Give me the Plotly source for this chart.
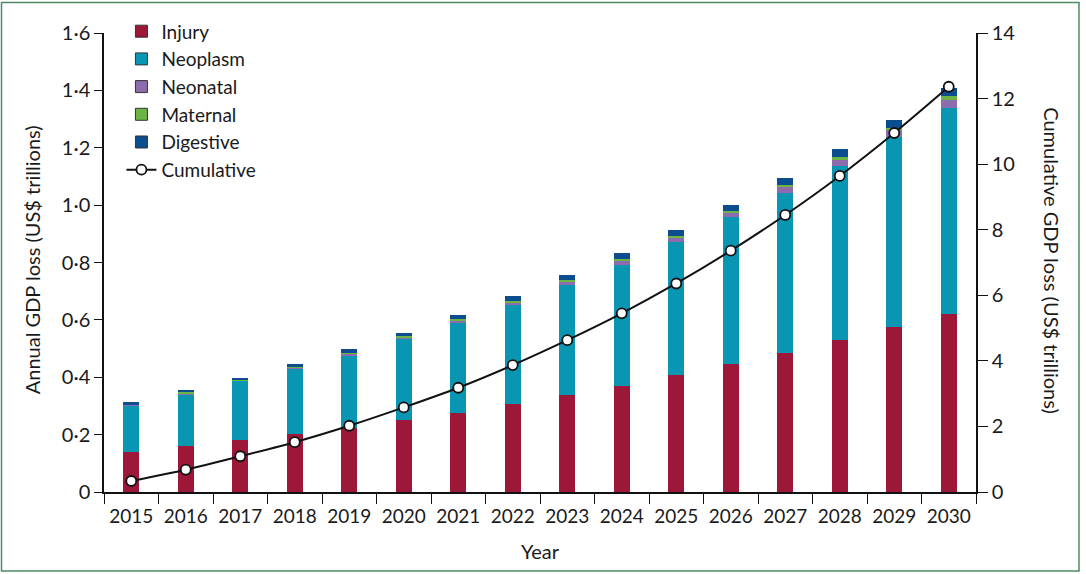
import plotly.graph_objects as go

years = [str(y) for y in range(2015, 2031)]
injury    = [0.139, 0.160, 0.180, 0.201, 0.224, 0.250, 0.276, 0.308, 0.339, 0.370, 0.409, 0.445, 0.485, 0.529, 0.574, 0.621]
neoplasm  = [0.163, 0.181, 0.207, 0.230, 0.253, 0.282, 0.314, 0.345, 0.382, 0.423, 0.463, 0.512, 0.557, 0.607, 0.662, 0.718]
neonatal  = [0.002, 0.004, 0.002, 0.003, 0.006, 0.008, 0.009, 0.009, 0.012, 0.013, 0.015, 0.016, 0.021, 0.023, 0.025, 0.029]
maternal  = [0.001, 0.002, 0.001, 0.002, 0.003, 0.004, 0.005, 0.005, 0.006, 0.006, 0.006, 0.008, 0.007, 0.009, 0.009, 0.012]
digestive = [0.008, 0.008, 0.008, 0.011, 0.012, 0.012, 0.014, 0.017, 0.016, 0.020, 0.020, 0.019, 0.024, 0.026, 0.028, 0.029]
cumulative = [0.335, 0.68, 1.09, 1.52, 2.02, 2.58, 3.18, 3.87, 4.63, 5.45, 6.36, 7.36, 8.45, 9.64, 10.95, 12.36]

left_ticks = [0, 0.2, 0.4, 0.6, 0.8, 1.0, 1.2, 1.4, 1.6]
left_labels = ["0", "0·2", "0·4", "0·6", "0·8", "1·0", "1·2", "1·4", "1·6"]
right_ticks = [0, 2, 4, 6, 8, 10, 12, 14]

series = [
    ("Injury", injury, "#9c1738"),
    ("Neoplasm", neoplasm, "#0896b3"),
    ("Neonatal", neonatal, "#8c6cad"),
    ("Maternal", maternal, "#6bb544"),
    ("Digestive", digestive, "#0b4d8e"),
]

FONT = "Lato, sans-serif"
fig = go.Figure()
for name, vals, col in series:
    fig.add_trace(go.Bar(x=years, y=vals, name=name, marker=dict(color=col, line=dict(width=0)),
                         showlegend=False, yaxis="y"))
# legend entries (outlined boxes)
for name, vals, col in series:
    fig.add_trace(go.Bar(x=[years[0]], y=[None], name=name,
                         marker=dict(color=col, line=dict(color="#333333", width=1)),
                         showlegend=True, yaxis="y"))

fig.add_trace(go.Scatter(x=years, y=cumulative, name="Cumulative", yaxis="y2",
                         mode="lines+markers", line=dict(color="#111111", width=2, shape="spline", smoothing=0.6),
                         marker=dict(symbol="circle", size=10, color="white", line=dict(color="#111111", width=1.8))))

fig.update_layout(
    width=1086, height=574,
    margin=dict(l=104, r=110, t=33, b=82, autoexpand=False),
    paper_bgcolor="white", plot_bgcolor="white",
    barmode="stack", bargap=0.7,
    font=dict(family=FONT, size=20, color="#1a1a1a"),
    showlegend=True,
    legend=dict(x=0.020, y=1.045, xanchor="left", yanchor="top", bgcolor="rgba(0,0,0,0)",
                font=dict(size=19), traceorder="normal", itemwidth=30, tracegroupgap=0),
    xaxis=dict(type="category", range=[-0.5, len(years) - 0.5], showline=True, linecolor="#111111",
               linewidth=1.5, ticks="outside", ticklen=10, tickcolor="#111111", tickwidth=1.2,
               tickson="boundaries", showgrid=False, tickfont=dict(size=19), tickangle=0,
               ticklabelstandoff=6, automargin=False),
    yaxis=dict(range=[0, 1.6], tickvals=left_ticks, ticktext=left_labels, showline=True,
               linecolor="#111111", linewidth=1.5, ticks="outside", ticklen=8, tickcolor="#111111",
               tickwidth=1.2, showgrid=False, zeroline=False, tickfont=dict(size=20), automargin=False),
    yaxis2=dict(range=[0, 14], tickvals=right_ticks, overlaying="y", side="right", showline=True,
                linecolor="#111111", linewidth=1.5, ticks="outside", ticklen=10, tickcolor="#111111",
                tickwidth=1.2, showgrid=False, zeroline=False, tickfont=dict(size=20), automargin=False),
)

fig.add_annotation(text="Annual GDP loss (US$ trillions)", xref="paper", yref="paper",
                   x=(32 - 104) / 872, y=0.505, textangle=-90, showarrow=False,
                   font=dict(size=20), xanchor="center", yanchor="middle")
fig.add_annotation(text="Cumulative GDP loss (US$ trillions)", xref="paper", yref="paper",
                   x=(1052 - 104) / 872, y=0.505, textangle=90, showarrow=False,
                   font=dict(size=20), xanchor="center", yanchor="middle")
fig.add_annotation(text="Year", xref="paper", yref="paper",
                   x=0.5, y=(492 - 551) / 459, showarrow=False,
                   font=dict(size=20), xanchor="center", yanchor="middle")

# outer frame
fig.add_shape(type="rect", xref="paper", yref="paper",
              x0=(1.5 - 104) / 872, x1=(1079 - 104) / 872,
              y0=(492 - 571) / 459, y1=(492 - 2.5) / 459,
              line=dict(color="#4f8a63", width=1.5), fillcolor="rgba(0,0,0,0)", layer="below")

fig.write_html("out.html", config={"displayModeBar": False},
               post_script="document.body.style.margin='0';document.body.style.overflow='hidden';")
